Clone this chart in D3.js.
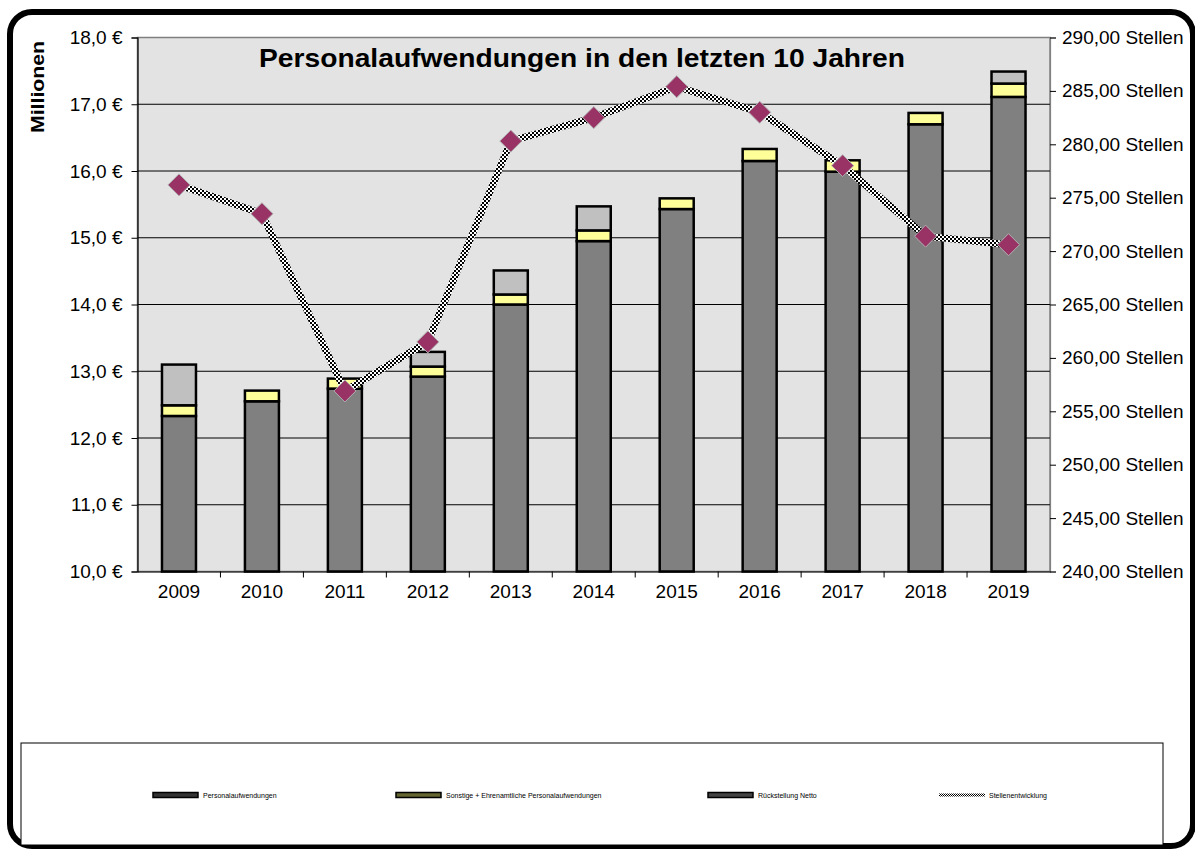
<!DOCTYPE html>
<html>
<head>
<meta charset="utf-8">
<script src="https://cdn.jsdelivr.net/npm/d3@7"></script>
<style>
body { margin: 0; background: #fff; }
svg text { font-family: "Liberation Sans", Arial, sans-serif; }
</style>
</head>
<body>
<div id="chart"></div>
<script>
var width = 1195;
var height = 849;

// data
var years = ["2009","2010","2011","2012","2013","2014","2015","2016","2017","2018","2019"];
var personal = [12.33, 12.55, 12.74, 12.92, 14.00, 14.95, 15.43, 16.15, 15.99, 16.70, 17.11];
var sonstige = [0.16, 0.16, 0.15, 0.15, 0.15, 0.16, 0.16, 0.18, 0.17, 0.17, 0.20];
var rueckstellung = [0.61, 0, 0, 0.22, 0.36, 0.36, 0, 0, 0, 0, 0.18];
var stellen = [276.2, 273.5, 256.9, 261.5, 280.3, 282.5, 285.4, 283.0, 278.0, 271.4, 270.6];
var leftTicks = [10, 11, 12, 13, 14, 15, 16, 17, 18];
var rightTicks = [240, 245, 250, 255, 260, 265, 270, 275, 280, 285, 290];
var seriesNames = ["Personalaufwendungen", "Sonstige + Ehrenamtliche Personalaufwendungen", "Rückstellung Netto", "Stellenentwicklung"];
var seriesColors = ["#808080", "#ffff99", "#c0c0c0"];

var svg = d3.select("#chart").append("svg")
  .attr("width", width)
  .attr("height", height);

// checkered pattern for the line
var defs = svg.append("defs");
function checker(id, c) {
  var pat = defs.append("pattern")
    .attr("id", id)
    .attr("patternUnits", "userSpaceOnUse")
    .attr("width", 2 * c).attr("height", 2 * c);
  pat.append("rect").attr("width", 2 * c).attr("height", 2 * c).attr("fill", "#fff");
  pat.append("rect").attr("width", c).attr("height", c).attr("fill", "#000");
  pat.append("rect").attr("x", c).attr("y", c).attr("width", c).attr("height", c).attr("fill", "#000");
}
checker("checker", 2);
checker("checkerSmall", 1);

// outer rounded frame
svg.append("rect")
  .attr("x", 10).attr("y", 12)
  .attr("width", 1183).attr("height", 834)
  .attr("rx", 22)
  .attr("fill", "#fff")
  .attr("stroke", "#000")
  .attr("stroke-width", 6);

var plot = {left: 137.5, right: 1050, top: 37.5, bottom: 571.5};

var x = d3.scaleBand()
  .domain(years)
  .range([plot.left, plot.right]);

// clamp so the stack base (0) sits on the axis floor
var y = d3.scaleLinear()
  .domain([10, 18])
  .range([plot.bottom, plot.top])
  .clamp(true);

var y2 = d3.scaleLinear()
  .domain([240, 290])
  .range([plot.bottom, plot.top]);

// plot background
svg.append("rect")
  .attr("x", plot.left).attr("y", plot.top)
  .attr("width", plot.right - plot.left)
  .attr("height", plot.bottom - plot.top)
  .attr("fill", "#e3e3e3")
  .attr("stroke", "#808080")
  .attr("stroke-width", 1.5);

// gridlines
svg.append("g")
  .selectAll("line")
  .data(leftTicks.slice(1, -1))
  .enter().append("line")
  .attr("x1", plot.left).attr("x2", plot.right)
  .attr("y1", function(d) { return y(d); })
  .attr("y2", function(d) { return y(d); })
  .attr("stroke", "#000")
  .attr("stroke-width", 1);

// stacked bars
var stackData = years.map(function(yr, i) {
  return {year: yr, p: personal[i], s: sonstige[i], r: rueckstellung[i]};
});
var stack = d3.stack().keys(["p", "s", "r"])(stackData);
var barW = 34;

svg.append("g")
  .selectAll("g")
  .data(stack)
  .enter().append("g")
  .attr("fill", function(d, i) { return seriesColors[i]; })
  .selectAll("rect")
  .data(function(d) { return d.filter(function(v) { return v[1] - v[0] > 0; }); })
  .enter().append("rect")
  .attr("x", function(d) { return x(d.data.year) + x.bandwidth() / 2 - barW / 2; })
  .attr("y", function(d) { return y(d[1]); })
  .attr("width", barW)
  .attr("height", function(d) { return y(d[0]) - y(d[1]); })
  .attr("stroke", "#000")
  .attr("stroke-width", 2.5);

// axes
var leftAxis = svg.append("g")
  .attr("transform", "translate(" + plot.left + ",0)")
  .call(d3.axisLeft(y)
    .tickValues(leftTicks)
    .tickSize(6)
    .tickPadding(9)
    .tickFormat(function(d) { return d3.format(".1f")(d).replace(".", ",") + " €"; }));

var rightAxis = svg.append("g")
  .attr("transform", "translate(" + plot.right + ",0)")
  .call(d3.axisRight(y2)
    .tickValues(rightTicks)
    .tickSize(6)
    .tickPadding(6)
    .tickFormat(function(d) { return d3.format(".2f")(d).replace(".", ",") + " Stellen"; }));

var bottomAxis = svg.append("g")
  .attr("transform", "translate(0," + plot.bottom + ")")
  .call(d3.axisBottom(x).tickSize(0).tickPadding(13));

// tick marks between categories
svg.append("g")
  .selectAll("line")
  .data(years.slice(1))
  .enter().append("line")
  .attr("x1", function(d) { return x(d); })
  .attr("x2", function(d) { return x(d); })
  .attr("y1", plot.bottom).attr("y2", plot.bottom + 6)
  .attr("stroke", "#000");

[leftAxis, rightAxis, bottomAxis].forEach(function(a) {
  a.selectAll("text").attr("font-size", 19).attr("fill", "#000")
    .style("font-family", "'Liberation Sans', Arial, sans-serif");
  a.select(".domain").attr("stroke", "#000").attr("stroke-width", 1.2);
  a.selectAll(".tick line").attr("stroke", "#000");
});
rightAxis.select(".domain").attr("stroke", "#808080");

// line for Stellen
var line = d3.line()
  .x(function(d, i) { return x(years[i]) + x.bandwidth() / 2; })
  .y(function(d) { return y2(d); });

svg.append("path")
  .datum(stellen)
  .attr("d", line)
  .attr("fill", "none")
  .attr("stroke", "url(#checker)")
  .attr("stroke-width", 7);

svg.append("g")
  .selectAll("path")
  .data(stellen)
  .enter().append("path")
  .attr("transform", function(d, i) {
    return "translate(" + (x(years[i]) + x.bandwidth() / 2) + "," + y2(d) + ")";
  })
  .attr("d", "M0,-11L11,0L0,11L-11,0Z")
  .attr("fill", "#993366")
  .attr("stroke", "#b0b0b0")
  .attr("stroke-width", 1);

// title
svg.append("text")
  .attr("x", 582).attr("y", 67)
  .attr("text-anchor", "middle")
  .attr("font-size", 26)
  .attr("font-weight", "bold")
  .attr("textLength", 646)
  .attr("lengthAdjust", "spacingAndGlyphs")
  .text("Personalaufwendungen in den letzten 10 Jahren");

// y axis label
svg.append("text")
  .attr("transform", "translate(44,87) rotate(-90)")
  .attr("text-anchor", "middle")
  .attr("font-size", 18)
  .attr("font-weight", "bold")
  .attr("textLength", 92)
  .attr("lengthAdjust", "spacingAndGlyphs")
  .text("Millionen");

// legend
svg.append("rect")
  .attr("x", 21).attr("y", 743)
  .attr("width", 1142).attr("height", 102)
  .attr("fill", "#fff")
  .attr("stroke", "#000")
  .attr("stroke-width", 1);

var legendX = [153, 396, 708, 939];
var legendFill = ["#333333", "#666633", "#444444"];
var leg = svg.append("g").selectAll("g")
  .data(seriesNames)
  .enter().append("g")
  .attr("transform", function(d, i) { return "translate(" + legendX[i] + ",795)"; });

leg.filter(function(d, i) { return i < 3; })
  .append("rect")
  .attr("x", 0).attr("y", -2.5)
  .attr("width", 45).attr("height", 5)
  .attr("fill", function(d, i) { return legendFill[i]; })
  .attr("stroke", "#000")
  .attr("stroke-width", 1.5);

leg.filter(function(d, i) { return i === 3; })
  .append("line")
  .attr("x1", 0).attr("x2", 46)
  .attr("y1", 0).attr("y2", 0)
  .attr("stroke", "url(#checkerSmall)")
  .attr("stroke-width", 3);

leg.append("text")
  .attr("x", 50).attr("y", 2.5)
  .attr("font-size", 7)
  .attr("fill", "#000")
  .text(function(d) { return d; });
</script>
</body>
</html>
